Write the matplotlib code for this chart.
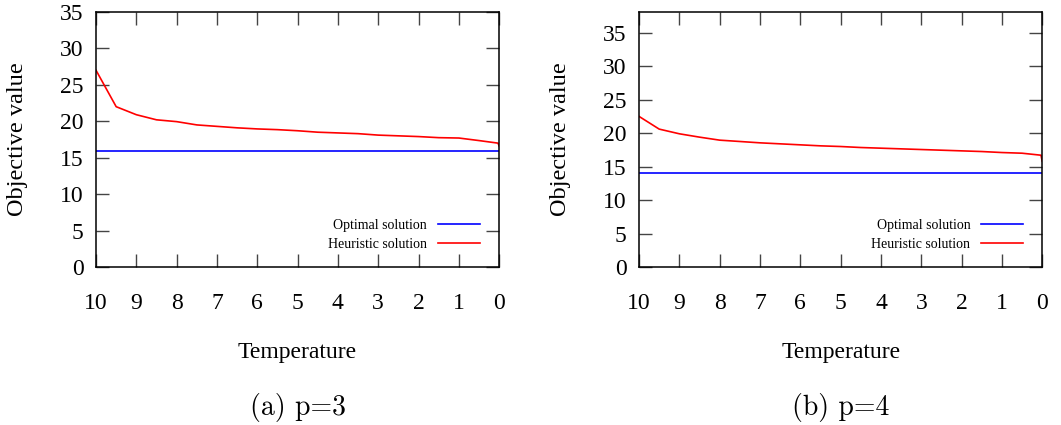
import matplotlib
matplotlib.use("Agg")
import matplotlib.pyplot as plt

plt.rcParams['font.family'] = ['Liberation Serif', 'DejaVu Serif']

# temperature steps (last point is the small drop at the very end)
temps = [10, 9.5, 9, 8.5, 8, 7.5, 7, 6.5, 6, 5.5, 5, 4.5, 4, 3.5, 3, 2.5,
         2, 1.5, 1, 0.5, 0.03, 0]

heur_p3 = [27.0, 22.0, 20.9, 20.2, 19.95, 19.5, 19.3, 19.1, 18.95, 18.85, 18.7,
           18.5, 18.4, 18.3, 18.1, 18.0, 17.9, 17.75, 17.7, 17.35, 17.0, 16.6]
heur_p4 = [22.5, 20.6, 19.9, 19.4, 18.95, 18.75, 18.55, 18.4, 18.25, 18.1, 18.0,
           17.85, 17.75, 17.65, 17.55, 17.45, 17.35, 17.25, 17.1, 17.0, 16.7, 15.8]
opt_p3 = 15.9
opt_p4 = 14.0

panels = [
    ("(a) p=3", heur_p3, opt_p3, 35.0, [0.0905, 0.3718, 0.380, 0.60]),
    ("(b) p=4", heur_p4, opt_p4, 38.1, [0.6023, 0.3718, 0.380, 0.60]),
]

fig = plt.figure(figsize=(10.61, 4.25), dpi=100)

for caption, heur, opt, ytop, pos in panels:
    ax = fig.add_axes(pos)
    ax.plot([10, 0], [opt, opt], color='#0000ff', lw=1.2, label='Optimal solution')
    ax.plot(temps, heur, color='#ff0000', lw=1.2, label='Heuristic solution')
    ax.set_xlim(10, 0)
    ax.set_ylim(0, ytop)
    ax.set_xticks(range(10, -1, -1))
    ax.set_yticks(range(0, 36, 5))
    ax.tick_params(direction='in', length=9.5, width=1, color='#444444',
                   top=True, right=True, labelsize=17)
    ax.tick_params(axis='x', pad=19)
    ax.tick_params(axis='y', pad=9)
    for s in ax.spines.values():
        s.set_linewidth(1.1)
    ax.set_xlabel('Temperature', fontsize=17)
    ax.xaxis.set_label_coords(0.5, -0.295)
    ax.set_ylabel('Objective value', fontsize=17.5)
    ax.yaxis.set_label_coords(-0.168, 0.5)
    ax.legend(loc='lower right', frameon=False, markerfirst=False, fontsize=10,
              handlelength=3.0, borderaxespad=0.4, labelspacing=0.45,
              bbox_to_anchor=(0.98, 0.02))
    cx = pos[0] + pos[2] / 2
    fig.text(cx, 0.042, caption, ha='center', va='center', fontsize=20,
             family=['cmr10', 'DejaVu Serif'])

fig.savefig('out.png', dpi=100)
